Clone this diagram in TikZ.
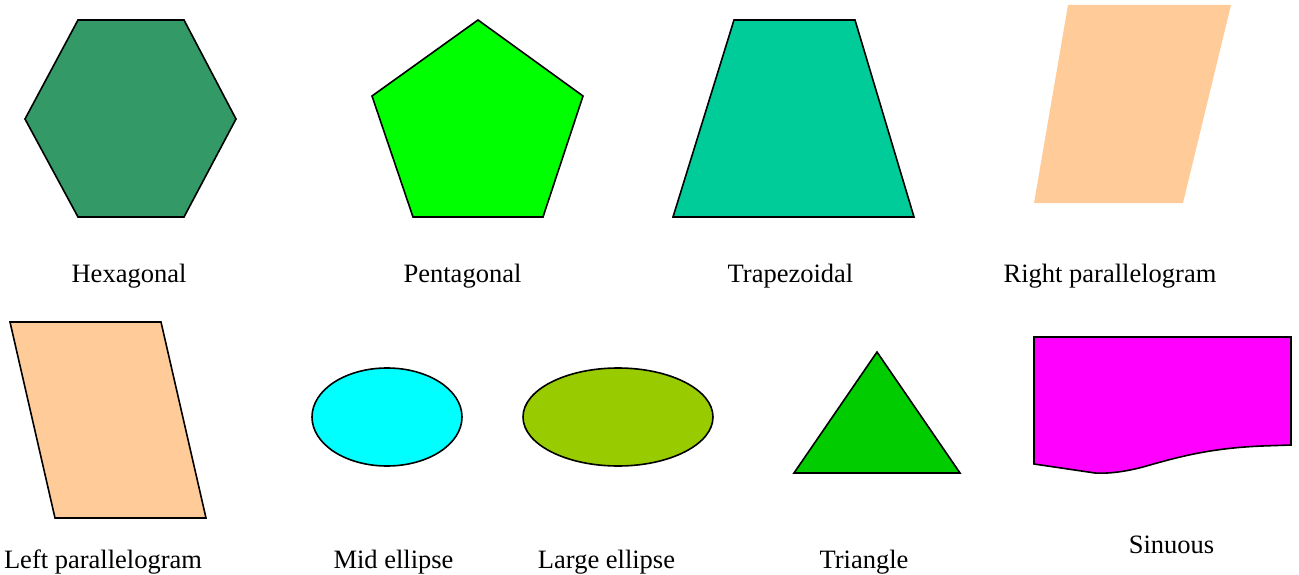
\documentclass[tikz,border=0pt]{standalone}
\usepackage{fontspec}
\setmainfont{Liberation Serif}
\definecolor{hexc}{HTML}{339966}
\definecolor{pentc}{HTML}{00FF00}
\definecolor{trapc}{HTML}{00CC99}
\definecolor{parc}{HTML}{FFCC99}
\definecolor{midc}{HTML}{00FFFF}
\definecolor{largec}{HTML}{99CC00}
\definecolor{tric}{HTML}{00CC00}
\definecolor{sinc}{HTML}{FF00FF}
\tikzset{
  shp/.style={draw=black, line width=1.6pt, line join=miter},
  lbl/.style={anchor=base, inner sep=0pt, font=\fontsize{26.5}{30}\selectfont}
}
\begin{document}
\begin{tikzpicture}[x=1pt,y=-1pt]
\useasboundingbox (0,0) rectangle (1299,575);
% Hexagon
\filldraw[shp, fill=hexc] (78,20) -- (184,20) -- (236,119) -- (184,217) -- (78,217) -- (25,119) -- cycle;
% Pentagon
\filldraw[shp, fill=pentc] (478,20) -- (583,96) -- (543,217) -- (413,217) -- (372,96) -- cycle;
% Trapezoid
\filldraw[shp, fill=trapc] (734,20) -- (855,20) -- (914,217) -- (673,217) -- cycle;
% Right parallelogram (no border)
\fill[parc] (1068,5) -- (1231,5) -- (1183,203) -- (1034,203) -- cycle;
% Left parallelogram
\filldraw[shp, fill=parc] (10,322) -- (161,322) -- (206,518) -- (55,518) -- cycle;
% Mid ellipse
\filldraw[shp, fill=midc] (387,417) ellipse [x radius=75, y radius=49];
% Large ellipse
\filldraw[shp, fill=largec] (618,417) ellipse [x radius=95, y radius=49];
% Triangle
\filldraw[shp, fill=tric] (877,352) -- (960,473) -- (794,473) -- cycle;
% Sinuous
\filldraw[shp, fill=sinc] (1034,337) -- (1291,337) -- (1291,445) -- (1262,446)
  .. controls (1215,448) and (1185,455) .. (1150,465)
  .. controls (1130,471) and (1110,474) .. (1095,473)
  -- (1034,464) -- cycle;
% Labels
\node[lbl] (l1) at (129,282) {Hexagonal};
\node[lbl] (l2) at (462.5,282) {Pentagonal};
\node[lbl] (l3) at (790.5,282) {Trapezoidal};
\node[lbl] (l4) at (1110,282) {Right parallelogram};
\node[lbl] (l5) at (103,568) {Left parallelogram};
\node[lbl] (l6) at (393.5,568) {Mid ellipse};
\node[lbl] (l7) at (606.5,568) {Large ellipse};
\node[lbl] (l8) at (864,568) {Triangle};
\node[lbl] (l9) at (1171.5,553) {Sinuous};
\end{tikzpicture}
\end{document}
